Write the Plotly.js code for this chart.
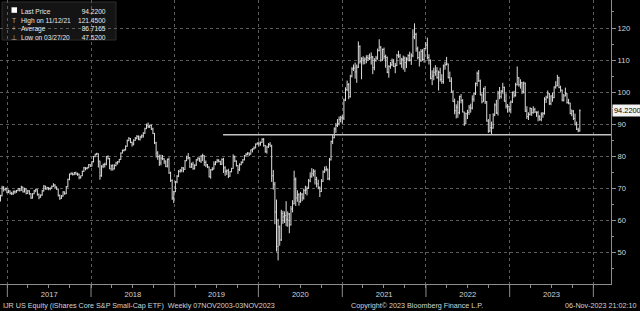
<!DOCTYPE html>
<html>
<head>
<meta charset="utf-8">
<script src="https://cdn.plot.ly/plotly-3.0.1.min.js"></script>
<style>html,body{margin:0;padding:0;background:#000;}#chart{width:640px;height:311px;}</style>
</head>
<body>
<div id="chart"></div>
<script>
// ---- data (weekly bars, Fridays starting 2016-12-02) ----
const firstWeek = '2016-12-02';
const weekOpen = [
66.5,67.7,70.0,69.6,69.9,
68.8,69.2,68.5,68.3, 68.9,68.9,69.3,69.9, 69.4,70.4,68.9,69.8,68.4, 69.2,68.3,67.0,68.3, 69.2,69.6,68.1,67.3, 67.9,69.2,70.7,69.8,70.2, 69.9,70.0,70.6,71.0, 70.4,69.8,67.7,66.9, 67.6,68.9,68.3,70.5,72.8, 74.4,74.7,74.3,74.9, 74.5,74.4,73.4,73.9, 75.3,76.4,76.2,76.4,77.4,
76.9,78.3,79.9,80.6, 80.8,78.5,73.9,76.9, 77.4,77.5,79.9,79.3,76.1, 77.1,76.1,77.1,77.9, 78.3,79.0,81.0,81.8, 82.0,83.1,84.9,85.5,84.3, 83.8,85.0,85.6,86.2, 85.3,86.0,86.4,87.2,88.6, 89.7,89.2,89.6,88.5, 87.1,84.2,81.0,79.9, 77.9,79.4,79.2,78.5,76.9, 79.0,74.8,72.4,67.0,
69.0,72.0,73.8,75.3, 75.6,76.4,75.9,78.6, 79.4,79.6,76.6,77.5,76.1, 77.2,78.9,79.4,78.5, 80.0,80.2,78.1,77.3,76.7, 73.6,75.8,76.0,77.5, 78.2,78.7,78.4,77.5, 79.0,76.4,75.3,75.5,73.8, 75.2,76.2,79.8,78.5, 77.1,75.8,77.4,78.1, 78.9,80.1,80.6,81.0,80.6, 82.0,82.3,82.6,83.8,
84.1,83.9,84.3,85.3,83.4, 81.4,82.9,83.7,83.2, 73.9,71.3,62.6,51.9, 58.0,53.9,62.2,61.1, 61.5,60.2,62.0,58.6,63.6, 65.2,72.8,67.0,68.0, 65.8,68.2,67.0,69.3,69.5, 70.0,72.3,73.8,74.5, 75.2,72.8,71.4,70.2, 69.0,72.2,75.1,75.8,76.0, 73.0,78.9,84.6,85.8, 88.5,89.6,90.2,91.5,
92.0,91.9,97.5,100.8,102.4, 98.6,105.0,107.2,107.5, 106.3,107.8,114.2,109.5, 110.4,109.8,110.3,110.8,110.5, 110.7,111.0,107.6,109.9, 110.6,113.0,114.0,110.0, 113.3,111.1,110.8,106.2,108.0, 108.5,109.4,108.0,108.3, 111.5,111.2,108.9,110.2, 110.6,109.2,110.3,111.4,110.0, 111.3,117.2,118.0,113.5, 110.8,110.0,112.7,110.2,113.6,
114.7,110.8,109.9,104.3, 105.0,106.2,106.6,104.5, 106.2,104.0,103.3,108.2, 108.6,108.8,104.5,103.4,100.0, 97.1,94.2,95.3,93.6, 98.6,97.4,93.8,90.1, 93.3,93.7,95.3,95.0,97.8, 99.5,102.7,105.8,103.5, 99.1,97.0,101.1,97.0,91.0, 87.9,88.9,88.8,92.9, 96.0,93.5,99.7,98.6, 100.3,101.5,97.2,95.6,95.5,
94.6,96.9,99.8,99.0, 102.3,104.5,102.3,102.9, 100.2,102.8,94.1,92.4,93.0, 94.9,93.6,94.5,93.8, 93.6,92.3,91.4,93.1, 93.3,97.8,98.4,99.5,96.4, 98.8,98.3,101.6,102.0, 104.5,101.5,100.6,97.5, 98.8,99.5,96.8,96.6,93.3, 94.1,91.8,90.0,88.4, 87.9
];
const weekHigh = [
68.0,70.8,70.7,70.2,70.2,
69.6,69.3,68.9,69.3, 69.4,69.5,70.1,70.0, 70.8,70.5,70.2,69.9,69.5, 69.4,68.5,68.5,69.5, 69.9,69.7,68.4,68.1, 69.5,71.0,70.8,70.5,70.4, 70.3,70.9,71.6,71.3, 70.6,69.9,68.1,67.9, 69.1,69.0,70.7,73.0,74.6, 75.0,74.9,75.1,75.2, 74.9,74.6,74.0,75.5, 76.7,76.6,76.7,77.6,77.5,
78.5,80.1,80.8,81.1, 80.9,78.6,77.2,77.7, 78.0,80.1,80.3,79.5,77.4, 77.5,77.5,78.3,78.5, 79.2,81.2,82.1,82.3, 83.4,85.2,86.0,85.7,84.6, 85.3,86.0,86.6,86.5, 86.4,86.8,87.5,88.9,90.2, 90.5,89.8,89.9,88.9, 87.3,84.5,81.6,80.5, 80.5,80.4,79.4,78.7,79.3, 79.6,75.2,72.8,69.2,
72.3,74.1,75.7,76.0, 76.7,76.6,78.8,80.2, 81.0,79.7,78.0,78.3,77.5, 79.1,79.7,79.6,80.4, 80.8,80.3,78.7,77.6,76.8, 76.0,76.6,78.4,78.5, 79.2,79.1,78.6,79.4, 79.5,76.9,75.9,76.1,75.4, 76.4,80.6,80.2,78.7, 77.2,77.8,78.4,79.1, 80.4,81.0,81.3,81.2,82.1, 82.5,83.1,84.0,84.3,
84.6,84.6,85.6,85.7,83.5, 83.3,84.1,84.4,83.6, 75.7,72.0,66.5,60.5, 58.4,63.3,63.0,62.8, 66.0,62.8,62.3,64.5,66.3, 75.5,73.4,69.4,68.5, 68.9,68.5,69.9,70.8,70.6, 72.9,75.0,76.3,76.0, 75.8,73.6,72.7,70.6, 72.9,75.6,76.8,77.0,76.1, 79.5,84.9,86.7,89.0, 90.4,91.6,92.4,92.6,
92.8,98.0,101.5,103.6,102.8, 105.4,107.8,108.6,109.2, 108.6,115.8,114.6,110.9, 111.2,110.8,111.5,111.6,112.0, 112.4,111.3,110.6,111.3, 113.6,116.5,114.4,113.6, 113.9,111.7,111.1,108.4,109.4, 110.5,110.3,109.1,111.9, 112.9,111.9,110.7,111.4, 111.1,110.9,111.8,112.6,112.1, 119.6,121.45,118.5,114.2, 112.7,113.4,113.4,113.8,115.6,
117.0,111.8,110.2,106.8, 107.6,108.4,107.8,106.7, 107.6,105.6,108.6,109.5, 111.0,108.9,106.4,104.6,100.6, 98.0,96.2,97.3,98.9, 99.4,97.8,93.9,93.6, 94.5,96.0,96.4,99.0,99.9, 103.0,106.4,106.9,103.9, 99.6,101.4,101.9,97.2,91.6, 93.2,90.8,93.4,96.5, 97.6,100.4,101.6,100.6, 102.9,101.7,99.6,96.3,95.8,
97.4,100.2,100.4,102.9, 108.0,104.7,104.0,103.2, 103.3,103.0,95.6,93.7,95.3, 95.0,95.6,95.1,94.0, 94.2,92.8,93.7,93.8, 98.4,98.9,100.5,99.7,99.0, 99.8,101.8,103.4,105.4, 104.8,102.0,100.8,99.4, 101.4,99.7,97.9,96.7,94.6, 94.4,93.3,90.8,88.9, 94.6
];
const weekLow = [
65.9,67.5,69.0,69.3,68.5,
68.5,68.1,67.9,68.0, 68.3,68.6,69.1,69.0, 69.2,68.7,68.7,68.1,68.3, 68.0,66.7,66.8,68.2, 68.8,67.7,66.6,67.1, 67.7,69.0,69.6,69.6,69.4, 69.4,69.8,70.5,70.1, 69.5,67.5,66.4,66.7, 67.4,68.0,68.2,70.3,72.5, 74.2,74.0,74.1,74.2, 73.9,72.8,73.0,73.8, 75.1,75.6,75.9,76.3,76.7,
76.8,78.1,79.7,80.3, 76.5,72.7,73.6,76.3, 76.5,77.2,79.0,76.0,75.5, 75.5,75.9,76.9,77.4, 78.0,78.9,80.9,81.5, 81.8,83.0,84.7,84.1,83.0, 83.4,84.8,85.3,85.0, 84.9,85.6,85.8,87.0,88.5, 88.8,88.8,88.2,86.9, 83.8,79.6,78.9,77.0, 77.2,78.8,77.6,76.6,76.5, 74.5,72.0,66.4,65.4,
68.8,71.6,73.5,74.9, 75.0,75.0,75.8,78.5, 79.0,76.4,76.4,75.8,75.9, 77.0,78.6,78.3,77.9, 78.5,77.0,76.6,76.3,73.4, 73.0,75.5,75.9,77.2, 78.0,78.1,77.3,77.3, 74.8,73.9,74.2,73.2,73.6, 75.0,76.1,78.2,76.8, 74.5,75.4,77.2,77.8, 78.7,80.0,80.3,80.1,80.6, 81.2,82.1,82.5,83.6,
83.1,83.3,84.2,83.0,81.1, 80.8,82.6,83.0,72.0, 69.6,58.8,50.3,47.52, 52.1,53.6,58.9,59.2, 58.2,58.0,56.0,58.4,62.5, 65.0,64.5,65.8,64.6, 65.5,66.0,66.5,68.2,67.8, 69.8,71.9,73.3,73.7, 71.2,70.3,69.7,67.3, 68.9,72.0,74.8,75.3,72.6, 72.5,78.7,83.8,85.6, 87.3,89.1,89.6,90.6,
90.1,91.3,97.2,100.3,97.8, 98.3,104.6,106.6,104.2, 102.9,107.5,108.9,104.0, 108.6,108.7,109.0,109.7,110.0, 108.6,105.6,106.8,109.5, 110.1,112.7,109.5,109.7, 110.2,107.6,105.9,104.5,107.3, 108.1,107.8,105.9,108.1, 110.7,108.6,107.6,107.0, 106.3,107.5,109.6,109.6,108.5, 110.9,116.5,112.6,110.2, 108.0,109.4,109.8,109.2,113.4,
110.2,108.6,104.0,102.2, 103.7,105.1,104.2,100.5, 103.3,102.6,102.6,107.0, 108.3,104.3,103.2,99.8,96.9, 93.1,91.8,92.0,93.1, 96.5,93.7,89.5,90.0, 91.6,92.9,93.6,94.6,97.0, 99.1,101.8,103.2,99.0, 96.5,97.0,96.3,90.8,87.3, 87.5,86.8,88.6,92.5, 93.2,92.7,97.8,98.0, 99.5,97.0,94.9,93.6,93.7,
93.4,96.6,98.3,98.6, 102.1,101.7,101.1,99.4, 99.6,93.8,91.6,91.3,92.7, 92.6,93.3,93.5,92.3, 90.9,91.1,90.9,92.0, 93.0,96.6,98.0,96.0,95.9, 97.0,98.1,101.1,101.8, 101.2,100.1,97.1,97.1, 98.7,96.4,96.2,93.1,92.5, 91.3,89.6,88.2,87.5, 87.7
];
const weekClose = [
67.6,70.1,69.6,69.9,68.8,
69.2,68.5,68.3,68.9, 68.9,69.3,69.9,69.4, 70.4,68.9,69.8,68.4,69.2, 68.3,67.0,68.3,69.2, 69.6,68.1,67.3,67.9, 69.2,70.7,69.8,70.2,69.9, 70.0,70.6,71.0,70.4, 69.8,67.7,66.9,67.6, 68.9,68.3,70.5,72.8,74.4, 74.7,74.3,74.9,74.5, 74.4,73.4,73.9,75.3, 76.4,76.2,76.4,77.4,76.9,
78.3,79.9,80.6,80.8, 78.5,73.9,76.9,77.4, 77.5,79.9,79.3,76.1,77.1, 76.1,77.1,77.9,78.3, 79.0,81.0,81.8,82.0, 83.1,84.9,85.5,84.3,83.8, 85.0,85.6,86.2,85.3, 86.0,86.4,87.2,88.6,89.7, 89.2,89.6,88.5,87.1, 84.2,81.0,79.9,77.9, 79.4,79.2,78.5,76.9,79.0, 74.8,72.4,67.0,69.0,
72.0,73.8,75.3,75.6, 76.4,75.9,78.6,79.4, 79.6,76.6,77.5,76.1,77.2, 78.9,79.4,78.5,80.0, 80.2,78.1,77.3,76.7,73.6, 75.8,76.0,77.5,78.2, 78.7,78.4,77.5,79.0, 76.4,75.3,75.5,73.8,75.2, 76.2,79.8,78.5,77.1, 75.8,77.4,78.1,78.9, 80.1,80.6,81.0,80.6,82.0, 82.3,82.6,83.8,84.1,
83.9,84.3,85.3,83.4,81.4, 82.9,83.7,83.2,73.9, 71.3,62.6,51.9,58.0, 53.9,62.2,61.1,61.5, 60.2,62.0,58.6,63.6,65.2, 72.8,67.0,68.0,65.8, 68.2,67.0,69.3,69.5,70.0, 72.3,73.8,74.5,75.2, 72.8,71.4,70.2,69.0, 72.2,75.1,75.8,76.0,73.0, 78.9,84.6,85.8,88.5, 89.6,90.2,91.5,92.0,
91.9,97.5,100.8,102.4,98.6, 105.0,107.2,107.5,106.3, 107.8,114.2,109.5,110.4, 109.8,110.3,110.8,110.5,110.7, 111.0,107.6,109.9,110.6, 113.0,114.0,110.0,113.3, 111.1,110.8,106.2,108.0,108.5, 109.4,108.0,108.3,111.5, 111.2,108.9,110.2,110.6, 109.2,110.3,111.4,110.0,111.3, 117.2,118.0,113.5,110.8, 110.0,112.7,110.2,113.6,114.7,
110.8,109.9,104.3,105.0, 106.2,106.6,104.5,106.2, 104.0,103.3,108.2,108.6, 108.8,104.5,103.4,100.0,97.1, 94.2,95.3,93.6,98.6, 97.4,93.8,90.1,93.3, 93.7,95.3,95.0,97.8,99.5, 102.7,105.8,103.5,99.1, 97.0,101.1,97.0,91.0,87.9, 88.9,88.8,92.9,96.0, 93.5,99.7,98.6,100.3, 101.5,97.2,95.6,95.5,94.6,
96.9,99.8,99.0,102.3, 104.5,102.3,102.9,100.2, 102.8,94.1,92.4,93.0,94.9, 93.6,94.5,93.8,93.6, 92.3,91.4,93.1,93.3, 97.8,98.4,99.5,96.4,98.8, 98.3,101.6,102.0,104.5, 101.5,100.6,97.5,98.8, 99.5,96.8,96.6,93.3,94.1, 91.8,90.0,88.4,87.9, 94.22
];
const lastPrice = 94.22;
const highValue = 121.45, highDate = '11/12/21';
const avgValue = 86.7165;
const lowValue = 47.52, lowDate = '03/27/20';
const avgStart = '2019-07-31';
const yearTicks = ['2017-01-01','2018-01-01','2019-01-01','2020-01-01','2021-01-01','2022-01-01','2023-01-01','2024-01-01'];
const xRange = ['2016-11-30', '2024-03-18'];
const yRange = [40.17, 128.73];
const legendLabels = ['Last Price', 'High on ' + highDate, 'Average', 'Low on ' + lowDate];
const legendValues = [lastPrice, highValue, avgValue, lowValue];
const legendIcons = ['&nbsp;', 'T', '+', '\u22A5'];
const captionLeft = 'IJR US Equity (iShares Core S&amp;P Small-Cap ETF)  Weekly 07NOV2003-03NOV2023';
const captionMid = 'Copyright\u00A9 2023 Bloomberg Finance L.P.';
const captionRight = '06-Nov-2023 21:02:10';

// weekly dates
const weekDates = [];
{
  const t0 = Date.parse(firstWeek + 'T00:00:00Z');
  for (let i = 0; i < weekClose.length; i++) {
    weekDates.push(new Date(t0 + i * 7 * 86400000).toISOString().slice(0, 10));
  }
}

// ---- layout helpers (plot area 0..611 x 0..284 px) ----
const PW = 611, PH = 284;
const px = v => v / PW;
const py = v => (PH - v) / PH;
const FONT = 'Liberation Sans, Arial, sans-serif';
const axisCol = '#8c8c8c';
const gridCol = '#5c5c5c';
const txtCol = '#d4d4d4';

const traces = [
  {
    type: 'ohlc',
    x: weekDates, open: weekOpen, high: weekHigh, low: weekLow, close: weekClose,
    increasing: {line: {color: '#dcdcdc', width: 1}},
    decreasing: {line: {color: '#dcdcdc', width: 1}},
    tickwidth: 0.45,
    hoverinfo: 'skip', showlegend: false
  },
  {
    type: 'scatter', mode: 'lines',
    x: [avgStart, xRange[1]], y: [avgValue, avgValue],
    line: {color: '#c4c4c4', width: 1.6},
    hoverinfo: 'skip', showlegend: false
  }
];

const shapes = [
  {type: 'rect', xref: 'paper', yref: 'paper', x0: px(2), x1: px(116), y0: py(40), y1: py(2),
   fillcolor: '#141414', line: {color: '#2c2c2c', width: 1}, layer: 'below'},
  {type: 'rect', xref: 'paper', yref: 'paper', x0: px(11.5), x1: px(17), y0: py(12.8), y1: py(7.3),
   fillcolor: '#ffffff', line: {width: 0}, layer: 'above'}
];
yearTicks.forEach(t => shapes.push({
  type: 'line', xref: 'x', yref: 'paper', x0: t, x1: t, y0: 0, y1: -13 / PH,
  line: {color: axisCol, width: 1}
}));

const legFont = {family: FONT, size: 6.6, color: '#e8e8e8'};
const annotations = [
  {xref: 'paper', yref: 'paper', x: px(19), y: py(5.5), xanchor: 'left', yanchor: 'top', align: 'left',
   text: legendLabels.join('<br>'), showarrow: false, font: legFont},
  {xref: 'paper', yref: 'paper', x: px(108), y: py(5.5), xanchor: 'right', yanchor: 'top', align: 'right',
   text: legendValues.map(v => v.toFixed(4)).join('<br>'), showarrow: false, font: legFont},
  {xref: 'paper', yref: 'paper', x: px(14.3), y: py(5.5), xanchor: 'center', yanchor: 'top', align: 'center',
   text: legendIcons.join('<br>'), showarrow: false, font: {family: FONT, size: 6.6, color: '#b0b0b0'}},
  {xref: 'paper', yref: 'y', x: 1, y: lastPrice, xanchor: 'left', yanchor: 'middle', xshift: 1,
   text: lastPrice.toFixed(4), showarrow: false, bgcolor: '#f2f2f2', borderpad: 1,
   font: {family: FONT, size: 7.4, color: '#000000'}},
  {xref: 'paper', yref: 'paper', x: px(1), y: py(305), xanchor: 'left', yanchor: 'middle',
   text: captionLeft, showarrow: false, font: {family: FONT, size: 7.2, color: txtCol}},
  {xref: 'paper', yref: 'paper', x: px(349), y: py(305), xanchor: 'left', yanchor: 'middle',
   text: captionMid, showarrow: false, font: {family: FONT, size: 7.2, color: txtCol}},
  {xref: 'paper', yref: 'paper', x: px(639), y: py(305), xanchor: 'right', yanchor: 'middle',
   text: captionRight, showarrow: false, font: {family: FONT, size: 7.2, color: txtCol}}
];

const layout = {
  width: 640, height: 311,
  margin: {l: 0, r: 29, t: 0, b: 27, pad: 0},
  paper_bgcolor: '#000000', plot_bgcolor: '#000000',
  showlegend: false,
  font: {family: FONT, size: 7.5, color: txtCol},
  xaxis: {
    type: 'date', range: xRange, rangeslider: {visible: false},
    tick0: '2017-01-01', dtick: 'M12', ticklabelmode: 'period', tickformat: '%Y',
    showgrid: true, gridcolor: gridCol, griddash: 'dot', gridwidth: 1,
    ticks: 'outside', ticklen: 3, tickcolor: axisCol,
    minor: {dtick: 'M3', tick0: '2017-01-01', ticks: 'outside', ticklen: 3, tickcolor: axisCol, showgrid: false},
    showline: true, linecolor: axisCol, linewidth: 1, zeroline: false,
    tickfont: {family: FONT, size: 7.6, color: txtCol}, fixedrange: true
  },
  yaxis: {
    side: 'right', range: yRange, tick0: 0, dtick: 10,
    showgrid: true, gridcolor: gridCol, griddash: 'dot', gridwidth: 1,
    ticks: 'outside', ticklen: 4, tickcolor: axisCol,
    minor: {dtick: 5, ticks: 'outside', ticklen: 2, tickcolor: axisCol, showgrid: false},
    showline: true, linecolor: axisCol, linewidth: 1, zeroline: false,
    tickfont: {family: FONT, size: 7.6, color: txtCol}, fixedrange: true
  },
  shapes: shapes,
  annotations: annotations
};

Plotly.newPlot('chart', traces, layout, {staticPlot: true, displayModeBar: false});
</script>
</body>
</html>
